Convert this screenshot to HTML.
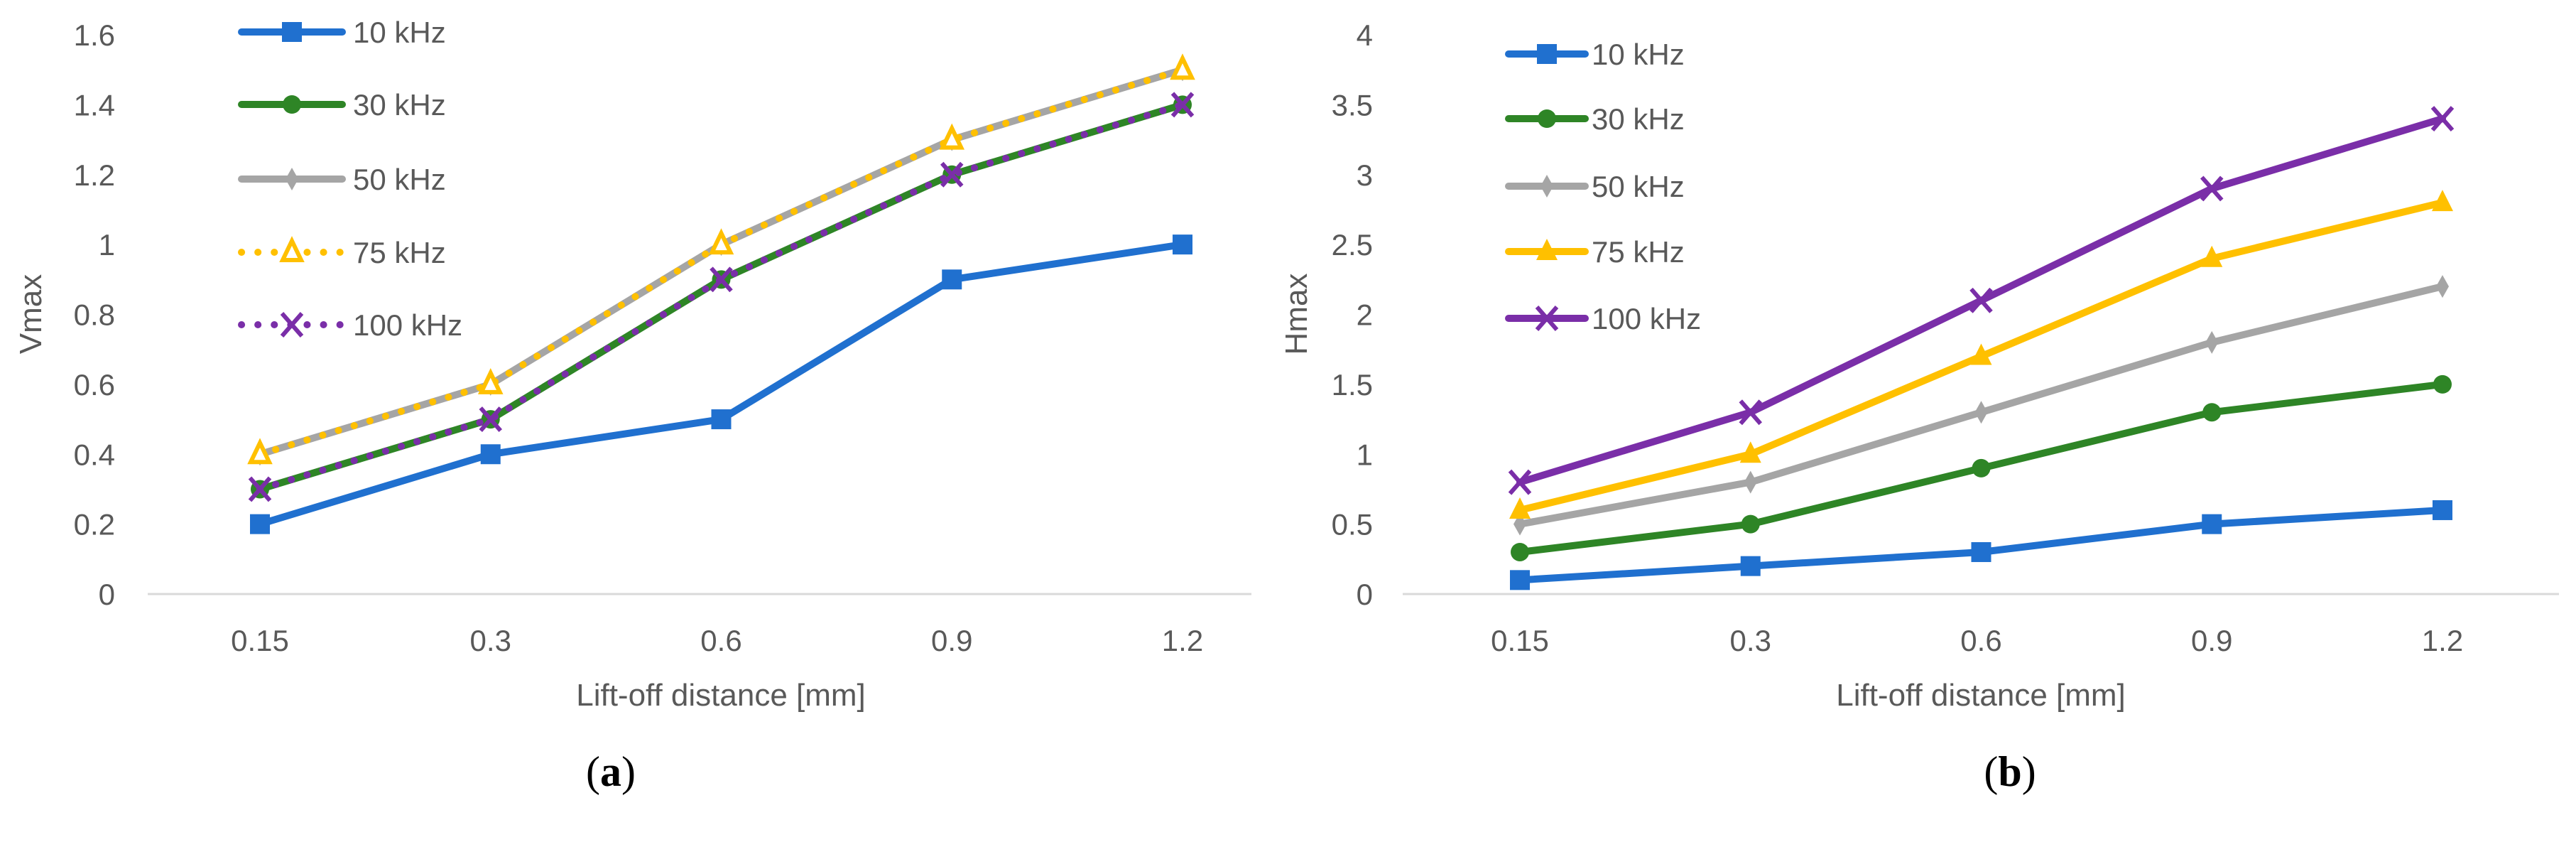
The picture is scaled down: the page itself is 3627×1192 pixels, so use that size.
<!DOCTYPE html>
<html><head><meta charset="utf-8"><style>
html,body{margin:0;padding:0;background:#fff;}
svg{display:block;}
text{font-family:"Liberation Sans",sans-serif;fill:#595959;}
</style></head><body>
<svg id="root" width="3627" height="1192" viewBox="0 0 3627 1192" xmlns="http://www.w3.org/2000/svg"></svg>
<script>
const categories = ["0.15","0.3","0.6","0.9","1.2"];
const seriesNames = ["10 kHz","30 kHz","50 kHz","75 kHz","100 kHz"];
const vTicks = ["0","0.2","0.4","0.6","0.8","1","1.2","1.4","1.6"];
const v10 = [0.2,0.4,0.5,0.9,1.0];
const v30 = [0.3,0.5,0.9,1.2,1.4];
const v50 = [0.4,0.6,1.0,1.3,1.5];
const v75 = [0.4,0.6,1.0,1.3,1.5];
const v100 = [0.3,0.5,0.9,1.2,1.4];
const hTicks = ["0","0.5","1","1.5","2","2.5","3","3.5","4"];
const h10 = [0.1,0.2,0.3,0.5,0.6];
const h30 = [0.3,0.5,0.9,1.3,1.5];
const h50 = [0.5,0.8,1.3,1.8,2.2];
const h75 = [0.6,1.0,1.7,2.4,2.8];
const h100 = [0.8,1.3,2.1,2.9,3.4];

const NS="http://www.w3.org/2000/svg";
const root=document.getElementById('root');
const colors={b:"#2070cf",g:"#2e8526",gr:"#a5a5a5",y:"#ffc000",p:"#7a2ea8"};
function mk(tag,attrs,parent){const e=document.createElementNS(NS,tag);for(const k in attrs)e.setAttribute(k,attrs[k]);(parent||root).appendChild(e);return e;}

function marker(g,type,x,y,c){
  let m;
  if(type==='sq'){m=mk('rect',{x:x-14,y:y-14,width:28,height:28,fill:c},g);}
  else if(type==='ci'){m=mk('circle',{cx:x,cy:y,r:13,fill:c},g);}
  else if(type==='di'){m=mk('path',{d:`M${x} ${y-16}L${x+9} ${y}L${x} ${y+16}L${x-9} ${y}Z`,fill:c},g);}
  else if(type==='tri'){m=mk('path',{d:`M${x} ${y-18}L${x+15} ${y+12}L${x-15} ${y+12}Z`,fill:c},g);}
  else if(type==='otri'){m=mk('path',{d:`M${x} ${y-16}L${x+13} ${y+11}L${x-13} ${y+11}Z`,fill:"#fff",stroke:c,'stroke-width':6},g);}
  else if(type==='x'){m=mk('path',{d:`M${x-14} ${y-16}L${x+14} ${y+16}M${x+14} ${y-16}L${x-14} ${y+16}`,stroke:c,'stroke-width':6,fill:'none'},g);}
  
  
}

function chart(cfg){
  const g=mk('g',{});
  
  
  const y0=836, yTop=49;
  const ymax=cfg.ymax;
  const yS=v=>y0-(v/ymax)*(y0-yTop);
  const xS=i=>cfg.x0+i*(cfg.x1-cfg.x0)/(categories.length-1);
  cfg.ticks.forEach((t,i)=>{
    const tv=i*ymax/(cfg.ticks.length-1);
    const e=mk('text',{x:cfg.tickX,y:yS(tv)+15,'text-anchor':'end','font-size':42},g);
    e.textContent=t;
    
    
  });
  const ax=mk('line',{x1:cfg.axL,x2:cfg.axR,y1:y0,y2:y0,stroke:"#d9d9d9",'stroke-width':3},g);
  
  
  categories.forEach((c,i)=>{
    const e=mk('text',{x:xS(i),y:916,'text-anchor':'middle','font-size':42},g);
    e.textContent=c;
    
    
  });
  const xt=mk('text',{x:cfg.titleX,y:993,'text-anchor':'middle','font-size':44},g);
  xt.textContent="Lift-off distance [mm]";
  
  
  const yt=mk('text',{x:cfg.ylabX,y:442,'text-anchor':'middle','font-size':44,transform:`rotate(-90 ${cfg.ylabX} 442)`},g);
  yt.textContent=cfg.ylab;
  
  
  const cap=mk('text',{x:cfg.capX,y:1106,'text-anchor':'middle','font-size':60,style:'font-family:"Liberation Serif",serif;fill:#000'},g);
  cap.innerHTML='(<tspan font-weight="bold">'+cfg.cap+'</tspan>)';
  
  
  cfg.series.forEach((s,si)=>{
    const sg=mk('g',{},g);
    
    
    const pts=s.data.map((v,i)=>xS(i)+','+yS(v)).join(' ');
    const attrs={points:pts,fill:'none',stroke:s.c,'stroke-width':10,'stroke-linejoin':'round','stroke-linecap':'round'};
    if(s.dot){attrs['stroke-dasharray']='0.1 23';}
    const pl=mk('polyline',attrs,sg);
    
    
    s.data.forEach((v,i)=>marker(sg,s.m,xS(i),yS(v),s.c));
    const ly=cfg.legY[si];
    const lg=mk('g',{},g);
    
    
    const la={x1:cfg.legX0,x2:cfg.legX1,y1:ly,y2:ly,stroke:s.c,'stroke-width':10,'stroke-linecap':'round'};
    if(s.dot){la['stroke-dasharray']='0.1 23';}
    mk('line',la,lg);
    marker(lg,s.m,(cfg.legX0+cfg.legX1)/2,ly,s.c);
    const lt=mk('text',{x:cfg.legTX,y:ly+15,'font-size':42},lg);
    lt.textContent=seriesNames[si];
  });
}

chart({name:'chart-a-vmax',ymax:1.6,ticks:vTicks,x0:366,x1:1665,axL:208,axR:1762,tickX:162,titleX:1015,ylabX:58,ylab:'Vmax',capX:860,cap:'a',
  legX0:340,legX1:482,legTX:497,legY:[45,147,252,355,457],
  series:[
    {data:v10,c:colors.b,m:'sq'},
    {data:v30,c:colors.g,m:'ci'},
    {data:v50,c:colors.gr,m:'di'},
    {data:v75,c:colors.y,m:'otri',dot:true},
    {data:v100,c:colors.p,m:'x',dot:true}
  ]});
chart({name:'chart-b-hmax',ymax:4,ticks:hTicks,x0:2140,x1:3439,axL:1975,axR:3603,tickX:1933,titleX:2789,ylabX:1840,ylab:'Hmax',capX:2830,cap:'b',
  legX0:2124,legX1:2232,legTX:2241,legY:[76,167,262,354,448],
  series:[
    {data:h10,c:colors.b,m:'sq'},
    {data:h30,c:colors.g,m:'ci'},
    {data:h50,c:colors.gr,m:'di'},
    {data:h75,c:colors.y,m:'tri'},
    {data:h100,c:colors.p,m:'x'}
  ]});
</script>
</body></html>
